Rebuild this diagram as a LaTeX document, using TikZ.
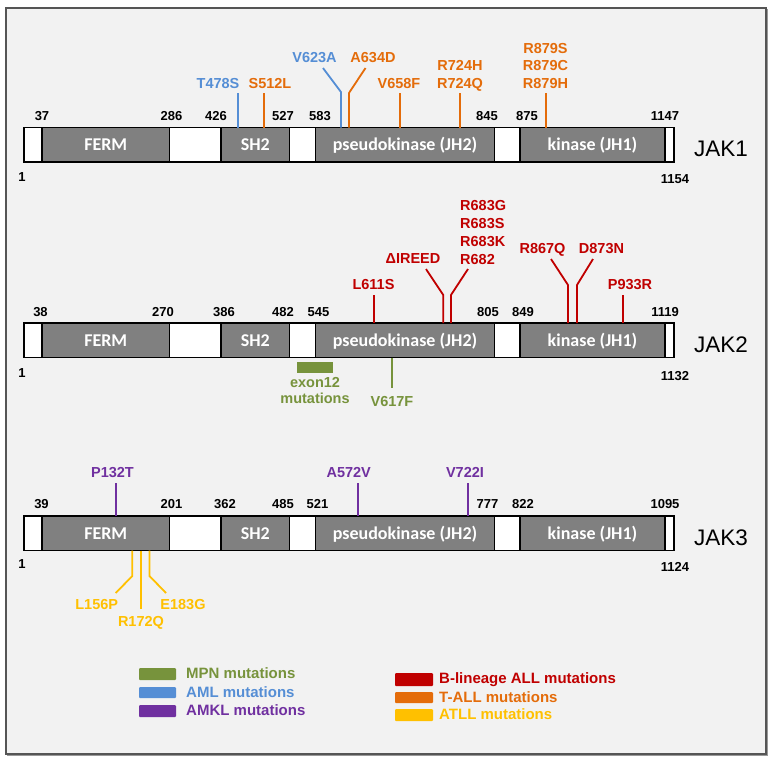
\documentclass[tikz,border=0pt]{standalone}
\usepackage{fontspec}
\setmainfont{Liberation Sans}
\newfontfamily\carl{Carlito}
\definecolor{bgc}{RGB}{242,242,242}
\definecolor{domg}{RGB}{128,128,128}
\definecolor{framec}{RGB}{85,85,85}
\definecolor{mpn}{RGB}{119,147,60}
\definecolor{aml}{RGB}{85,142,213}
\definecolor{amkl}{RGB}{112,48,160}
\definecolor{ball}{RGB}{192,0,0}
\definecolor{tall}{RGB}{228,108,10}
\definecolor{atll}{RGB}{255,192,0}
\tikzset{
  seg/.style={draw=black, line width=1.8pt, inner sep=0pt, outer sep=0pt, minimum height=34.5pt,
    text=white, font=\carl\bfseries\fontsize{18}{20}\selectfont, text height=11.6pt, text depth=0pt},
  num/.style={font=\bfseries\fontsize{13}{15}\selectfont, inner sep=0pt, text height=9.3pt, text depth=0pt},
  lab/.style={font=\bfseries\fontsize{14.5}{17}\selectfont, inner sep=0pt, text height=10.4pt, text depth=0pt},
  mline/.style={line width=1.8pt},
  jak/.style={font=\fontsize{22.5}{26}\selectfont, inner sep=0pt, text height=16.1pt, text depth=0pt},
  leg/.style={font=\bfseries\fontsize{15}{17}\selectfont, inner sep=0pt, anchor=west, text height=10.7pt, text depth=0pt},
  legbox/.style={rounded corners=1pt, draw=none}
}
\newcommand{\jakbar}[2]{%
  \foreach \xa/\xb/\nm/\fc/\tx in {24/42/sa/white/{}, 42/169.5/ferm/domg/FERM, 169.5/221/sb/white/{},
      221/289.5/sh/domg/SH2, 289.5/315.5/sc/white/{}, 315.5/494.5/jh/domg/{pseudokinase (JH2)},
      494.5/520/sd/white/{}, 520/665/kin/domg/{kinase (JH1)}, 665/674/se/white/{}}{
    \node[seg, fill=\fc, minimum width={\xb-\xa}] (#1\nm) at ({(\xa+\xb)/2},{#2+17.25}) {\tx};
  }%
}
% straight mutation line: name, colour, x, y at bar, y at free end
\newcommand{\mutv}[5]{%
  \coordinate (#1b) at (#3,#4); \coordinate (#1t) at (#3,#5);
  \draw[mline,#2] (#1b) -- (#1t);}
% bent mutation line: name, colour, x, y at bar, y of kink, x end, y end
\newcommand{\mutb}[7]{%
  \coordinate (#1b) at (#3,#4); \coordinate (#1k) at (#3,#5); \coordinate (#1t) at (#6,#7);
  \draw[mline,#2] (#1b) -- (#1k) -- (#1t);}
\begin{document}
\begin{tikzpicture}[x=1pt,y=-1pt]
\useasboundingbox (0,0) rectangle (772,761);
\fill[white] (0,0) rectangle (772,761);
\draw[line width=1.5pt, black!40] (7.5,9.5) rectangle (767.5,755.5);
\draw[line width=2pt, framec, fill=bgc] (6,8) rectangle (766,754);

% ---------------- JAK1 ----------------
\jakbar{a}{127.5}
\node[jak] (jak1) at (721,148.5) {JAK1};
\foreach \x/\n in {42/37, 171.5/286, 216/426, 283/527, 320/583, 487/845, 527/875, 665/1147}
  \node[num] (an\n) at (\x,116) {\n};
\node[num] (aone) at (22,177) {1};
\node[num] (aend) at (675,179) {1154};

\mutv{tfs}{aml}{238}{127.5}{93}
\node[lab, text=aml] (T478S) at (218,83) {T478S};
\mutv{sfl}{tall}{264}{127.5}{93}
\node[lab, text=tall] (S512L) at (270,83) {S512L};
\mutb{vsa}{aml}{341}{127.5}{92}{323}{68}
\node[lab, text=aml] (V623A) at (314.5,57) {V623A};
\mutb{asd}{tall}{349}{127.5}{93}{365.5}{68}
\node[lab, text=tall] (A634D) at (373,57) {A634D};
\mutv{vff}{tall}{400}{127.5}{93}
\node[lab, text=tall] (V658F) at (399,83) {V658F};
\mutv{rsq}{tall}{460}{127.5}{93}
\node[lab, text=tall] (R724H) at (460,65.5) {R724H};
\node[lab, text=tall] (R724Q) at (460,83) {R724Q};
\mutv{rek}{tall}{546}{127.5}{93}
\node[lab, text=tall] (R879S) at (545.5,48) {R879S};
\node[lab, text=tall] (R879C) at (545.5,65.5) {R879C};
\node[lab, text=tall] (R879H) at (545.5,83) {R879H};

% ---------------- JAK2 ----------------
\jakbar{b}{323}
\node[jak] (jak2) at (721,344) {JAK2};
\foreach \x/\n in {40.5/38, 163/270, 224/386, 283/482, 318.5/545, 488/805, 523/849, 665/1119}
  \node[num] (bn\n) at (\x,311.5) {\n};
\node[num] (bone) at (22,373) {1};
\node[num] (bend) at (675,376) {1132};

\mutv{lsx}{ball}{374}{323}{295}
\node[lab, text=ball] (L611S) at (373.5,284) {L611S};
\mutb{ireed}{ball}{443.3}{323}{295}{426}{269}
\node[lab, text=ball] (IREED) at (413,258) {ΔIREED};
\mutb{rsx}{ball}{451}{323}{295}{468}{269}
\node[lab, text=ball, anchor=west] (R683G) at (460,205) {R683G};
\node[lab, text=ball, anchor=west] (R683S) at (460,223) {R683S};
\node[lab, text=ball, anchor=west] (R683K) at (460,241) {R683K};
\node[lab, text=ball, anchor=west] (R682) at (460,259) {R682};
\mutb{res}{ball}{568}{323}{285}{551}{259}
\node[lab, text=ball] (R867Q) at (542.5,248) {R867Q};
\mutb{des}{ball}{577}{323}{285}{593}{259}
\node[lab, text=ball] (D873N) at (601.5,248) {D873N};
\mutv{pnt}{ball}{623}{323}{295}
\node[lab, text=ball] (P933R) at (630,284) {P933R};
\mutv{vso}{mpn}{392}{357.5}{388}
\node[lab, text=mpn] (V617F) at (392,401) {V617F};
\node[fill=mpn, inner sep=0pt, minimum width=36pt, minimum height=11pt] (exbox) at (315,367.5) {};
\node[lab, text=mpn] (exon) at (315,382) {exon12};
\node[lab, text=mpn] (exmut) at (315,398) {mutations};

% ---------------- JAK3 ----------------
\jakbar{c}{516}
\node[jak] (jak3) at (721,537) {JAK3};
\foreach \x/\n in {41.5/39, 171.5/201, 225/362, 283/485, 317.5/521, 487.5/777, 523/822, 665/1095}
  \node[num] (cn\n) at (\x,504) {\n};
\node[num] (cone) at (22,564) {1};
\node[num] (cend) at (675,567) {1124};

\mutv{pot}{amkl}{116}{516}{483}
\node[lab, text=amkl] (P132T) at (112.5,472) {P132T};
\mutv{asv}{amkl}{358}{516}{483}
\node[lab, text=amkl] (A572V) at (348.7,472) {A572V};
\mutv{vsi}{amkl}{468}{516}{483}
\node[lab, text=amkl] (V722I) at (465,472) {V722I};
\mutb{lop}{atll}{132.3}{550.5}{576}{115.7}{593}
\node[lab, text=atll] (L156P) at (96.7,604) {L156P};
\mutv{roq}{atll}{141}{550.5}{609}
\node[lab, text=atll] (R172Q) at (141,621) {R172Q};
\mutb{eog}{atll}{149.5}{550.5}{576}{166}{593}
\node[lab, text=atll] (E183G) at (183,604) {E183G};

% ---------------- legend ----------------
\fill[legbox, mpn] (139,668) rectangle (176,680);
\node[leg, text=mpn] (lmpn) at (186,673) {MPN mutations};
\fill[legbox, aml] (139,687) rectangle (176,698);
\node[leg, text=aml] (laml) at (186,692) {AML mutations};
\fill[legbox, amkl] (139,705) rectangle (176,717);
\node[leg, text=amkl] (lamkl) at (186,710.5) {AMKL mutations};
\fill[legbox, ball] (395,673) rectangle (433,686);
\node[leg, text=ball] (lball) at (439,678.5) {B-lineage ALL mutations};
\fill[legbox, tall] (395,692) rectangle (433,703);
\node[leg, text=tall] (ltall) at (439,697) {T-ALL mutations};
\fill[legbox, atll] (395,709) rectangle (433,721);
\node[leg, text=atll] (latll) at (439,714.5) {ATLL mutations};
\end{tikzpicture}
\end{document}
